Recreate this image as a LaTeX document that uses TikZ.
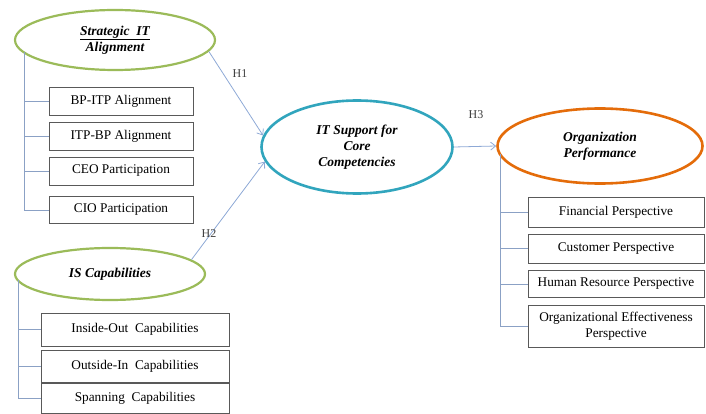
\documentclass[tikz,border=0pt]{standalone}
\usepackage{fontspec}
\setmainfont{Liberation Serif}
\usetikzlibrary{shapes.geometric,arrows.meta}
\definecolor{ellgreen}{HTML}{9BBB59}
\definecolor{ellteal}{HTML}{31A5BD}
\definecolor{ellorange}{HTML}{E46C0A}
\definecolor{conn}{HTML}{8EA9D6}
\definecolor{boxline}{HTML}{595959}
\begin{document}
\begin{tikzpicture}[x=1pt,y=-1pt,
  ell/.style={ellipse, draw, line width=2.2pt, fill=white, inner sep=0pt, align=center,
    font=\fontsize{13.5}{16}\selectfont\bfseries\itshape},
  itembox/.style={draw=boxline, line width=0.8pt, fill=white, inner sep=1pt, align=center,
    font=\fontsize{13.3}{15.5}\selectfont},
  tree/.style={draw=conn!80!gray, line width=0.7pt},
  link/.style={draw=conn, line width=0.8pt, -{Straight Barb[length=5pt,width=8pt]}},
  hlab/.style={font=\fontsize{12}{14}\selectfont, text=black!75}
]
\useasboundingbox (0,0) rectangle (706,414);

% ellipses
\node[ell, draw=ellgreen, minimum width=200, minimum height=60] (sa) at (115,40)
  {\underline{Strategic\ \ IT}\\Alignment};
\node[ell, draw=ellgreen, minimum width=190, minimum height=52] (is) at (110,274)
  {IS Capabilities};
\node[ell, draw=ellteal, line width=2.6pt, minimum width=191, minimum height=93] (it) at (357,147)
  {IT Support for\\Core\\Competencies};
\node[ell, draw=ellorange, line width=2.6pt, minimum width=205, minimum height=75] (op) at (600,146)
  {Organization\\Performance};

% Strategic IT Alignment items
\node[itembox, minimum width=144, minimum height=28] (b1) at (121,101) {BP-ITP Alignment};
\node[itembox, minimum width=144, minimum height=28] (b2) at (121,136) {ITP-BP Alignment};
\node[itembox, minimum width=144, minimum height=28] (b3) at (121,171) {CEO Participation};
\node[itembox, minimum width=144, minimum height=27] (b4) at (121,210) {CIO Participation};

% IS Capabilities items
\node[itembox, minimum width=188, minimum height=33] (c1) at (135,329.5)
  {Inside-Out\ \ Capabilities};
\node[itembox, minimum width=188, minimum height=32] (c2) at (135,366)
  {Outside-In\ \ Capabilities};
\node[itembox, minimum width=188, minimum height=30] (c3) at (135,398)
  {Spanning\ \ Capabilities};

% Organization Performance items
\node[itembox, minimum width=176, minimum height=30] (d1) at (616,212) {Financial Perspective};
\node[itembox, minimum width=176, minimum height=29] (d2) at (616,248.5) {Customer Perspective};
\node[itembox, minimum width=176, minimum height=27] (d3) at (616,284) {Human Resource Perspective};
\node[itembox, minimum width=176, minimum height=42] (d4) at (616,326)
  {Organizational Effectiveness\\Perspective};

% trees
\coordinate (ta) at (24,52);
\draw[tree] (ta) |- (b4.west);
\foreach \b in {b1,b2,b3} \draw[tree] (ta |- \b.west) -- (\b.west);

\coordinate (tb) at (18,280);
\draw[tree] (tb) |- (c3.west);
\foreach \b in {c1,c2} \draw[tree] (tb |- \b.west) -- (\b.west);

\coordinate (tc) at (500,154);
\draw[tree] (tc) |- (d4.west);
\foreach \b in {d1,d2,d3} \draw[tree] (tc |- \b.west) -- (\b.west);

% hypotheses
\draw[link] (sa.-7) -- (it.173);
\draw[link] (is.10) -- (it.189);
\draw[link] (it.east) -- (op.west);
\node[hlab] (h1) at (240,74) {H1};
\node[hlab] (h2) at (209,234) {H2};
\node[hlab] (h3) at (476,115) {H3};
\end{tikzpicture}
\end{document}
